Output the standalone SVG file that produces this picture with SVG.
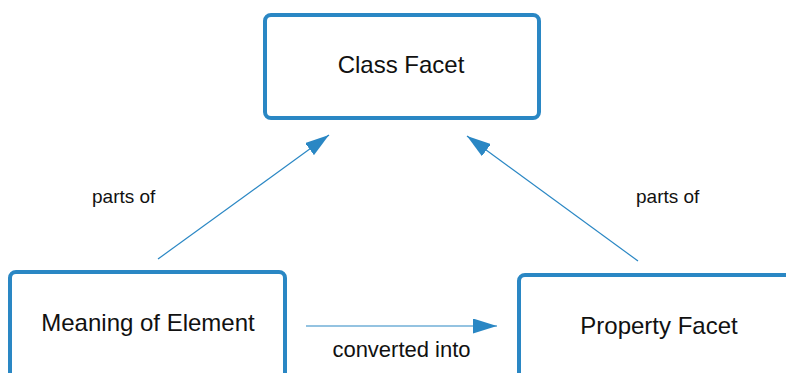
<svg xmlns="http://www.w3.org/2000/svg" width="786" height="373" viewBox="0 0 786 373">
  <style>
    .box { fill: #ffffff; stroke: #2a87c4; stroke-width: 4; }
    .node-text { font-family: "Liberation Sans", Arial, sans-serif; font-size: 24px; fill: #111111; text-anchor: middle; }
    .label { font-family: "Liberation Sans", Arial, sans-serif; font-size: 19px; fill: #111111; }
    .edge { stroke: #2a87c4; stroke-width: 1.2; fill: none; marker-end: url(#arrow); }
  </style>
  <defs>
    <marker id="arrow" markerUnits="userSpaceOnUse" markerWidth="24" markerHeight="15" refX="24" refY="7.5" orient="auto">
      <path d="M0,0 L24,7.5 L0,15 z" fill="#2a87c4"/>
    </marker>
  </defs>
  <rect width="786" height="373" fill="#ffffff"/>
  <g id="connectors">
    <line class="edge" x1="158" y1="259" x2="329" y2="135"/>
    <line class="edge" x1="638" y1="261" x2="467" y2="136"/>
    <line class="edge" x1="306" y1="326" x2="497" y2="326"/>
    <text class="label" x="92" y="203">parts of</text>
    <text class="label" x="636" y="203">parts of</text>
    <text class="label" x="401.5" y="357" text-anchor="middle" style="font-size:22px">converted into</text>
  </g>
  <g id="class-facet">
    <rect class="box" x="265" y="15" width="274" height="103" rx="6" ry="6"/>
    <text class="node-text" x="401" y="73">Class Facet</text>
  </g>
  <g id="meaning-of-element">
    <rect class="box" x="10" y="272" width="275" height="120" rx="6" ry="6"/>
    <text class="node-text" x="148" y="331">Meaning of Element</text>
  </g>
  <g id="property-facet">
    <rect class="box" x="519" y="275" width="290" height="120" rx="6" ry="6"/>
    <text class="node-text" x="659" y="334">Property Facet</text>
  </g>
</svg>
